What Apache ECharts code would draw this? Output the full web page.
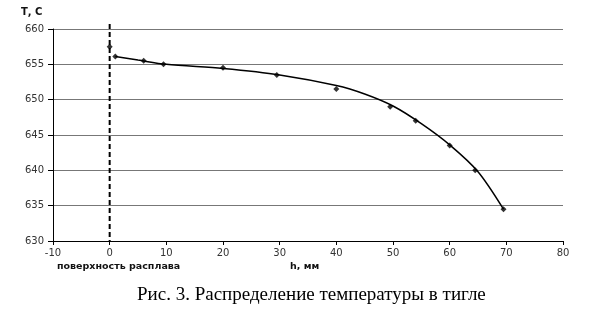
<!DOCTYPE html>
<html>
<head>
<meta charset="utf-8">
<script src="https://cdn.jsdelivr.net/npm/echarts@6/dist/echarts.min.js"></script>
<style>
html,body{margin:0;padding:0;background:#fff;}
#c{width:613px;height:318px;}
</style>
</head>
<body>
<div id="c"></div>
<script>
// Measured points (h, mm ; T, C)
const pointsH = [0, 1, 6, 9.5, 20, 29.5, 40, 49.5, 54, 60, 64.5, 69.5];
const pointsT = [657.5, 656.1, 655.5, 655, 654.5, 653.5, 651.5, 649, 647, 643.5, 640, 634.5];
// Trend curve
const curveH = [1, 5, 10, 20, 30, 40, 45, 50, 55, 60, 65, 69.5];
const curveT = [656.1, 655.6, 655.0, 654.4, 653.5, 652.0, 650.8, 649.1, 646.6, 643.6, 639.8, 634.5];
// Melt surface reference line (h = 0)
const surfaceH = [0, 0];
const surfaceT = [660.7, 630];
// Axis settings
const xMin = -10, xMax = 80, xStep = 10;
const yMin = 630, yMax = 660, yStep = 5;
const yLabel = 'Т, С';
const xLabel = 'h, мм';
const surfaceLabel = 'поверхность расплава';
const caption = 'Рис. 3. Распределение температуры в тигле';

const chart = echarts.init(document.getElementById('c'), null, {renderer: 'canvas'});
const labelFont = {fontFamily: 'DejaVu Sans', fontSize: 10, color: '#333'};
chart.setOption({
  animation: false,
  backgroundColor: '#fff',
  grid: {left: 53, right: 50, top: 29, bottom: 77, containLabel: false},
  xAxis: {
    type: 'value', min: xMin, max: xMax, interval: xStep,
    axisLine: {show: true, onZero: false, lineStyle: {color: '#000', width: 1}},
    axisTick: {show: true, length: 4, lineStyle: {color: '#000'}},
    axisLabel: Object.assign({margin: 7}, labelFont),
    splitLine: {show: false}
  },
  yAxis: {
    type: 'value', min: yMin, max: yMax, interval: yStep,
    axisLine: {show: true, onZero: false, lineStyle: {color: '#000', width: 1}},
    axisTick: {show: true, length: 5, lineStyle: {color: '#000'}},
    axisLabel: Object.assign({margin: 9}, labelFont),
    splitLine: {show: true, lineStyle: {color: '#777', width: 1}}
  },
  graphic: [
    {type: 'text', left: 21, top: 7, style: {text: yLabel, font: 'bold 10px "DejaVu Sans"', fill: '#111'}},
    {type: 'text', left: 57, top: 262, style: {text: surfaceLabel, font: 'bold 9.5px "DejaVu Sans"', fill: '#111'}},
    {type: 'text', left: 290, top: 262, style: {text: xLabel, font: 'bold 9.5px "DejaVu Sans"', fill: '#111'}},
    {type: 'text', left: 137, top: 286, style: {text: caption, font: '19px "Liberation Serif"', fill: '#000'}}
  ],
  series: [
    {
      type: 'line',
      data: surfaceH.map((h, i) => [h, surfaceT[i]]),
      clip: false,
      showSymbol: false,
      silent: true,
      lineStyle: {color: '#000', type: [5, 3], width: 2},
      z: 2
    },
    {
      type: 'line',
      data: curveH.map((h, i) => [h, curveT[i]]),
      smooth: 0.3,
      showSymbol: false,
      lineStyle: {color: '#000', width: 1.5},
      z: 3
    },
    {
      type: 'scatter',
      data: pointsH.map((h, i) => [h, pointsT[i]]),
      symbol: 'diamond',
      symbolSize: 6,
      itemStyle: {color: '#000'},
      z: 4
    }
  ]
});
</script>
</body>
</html>
